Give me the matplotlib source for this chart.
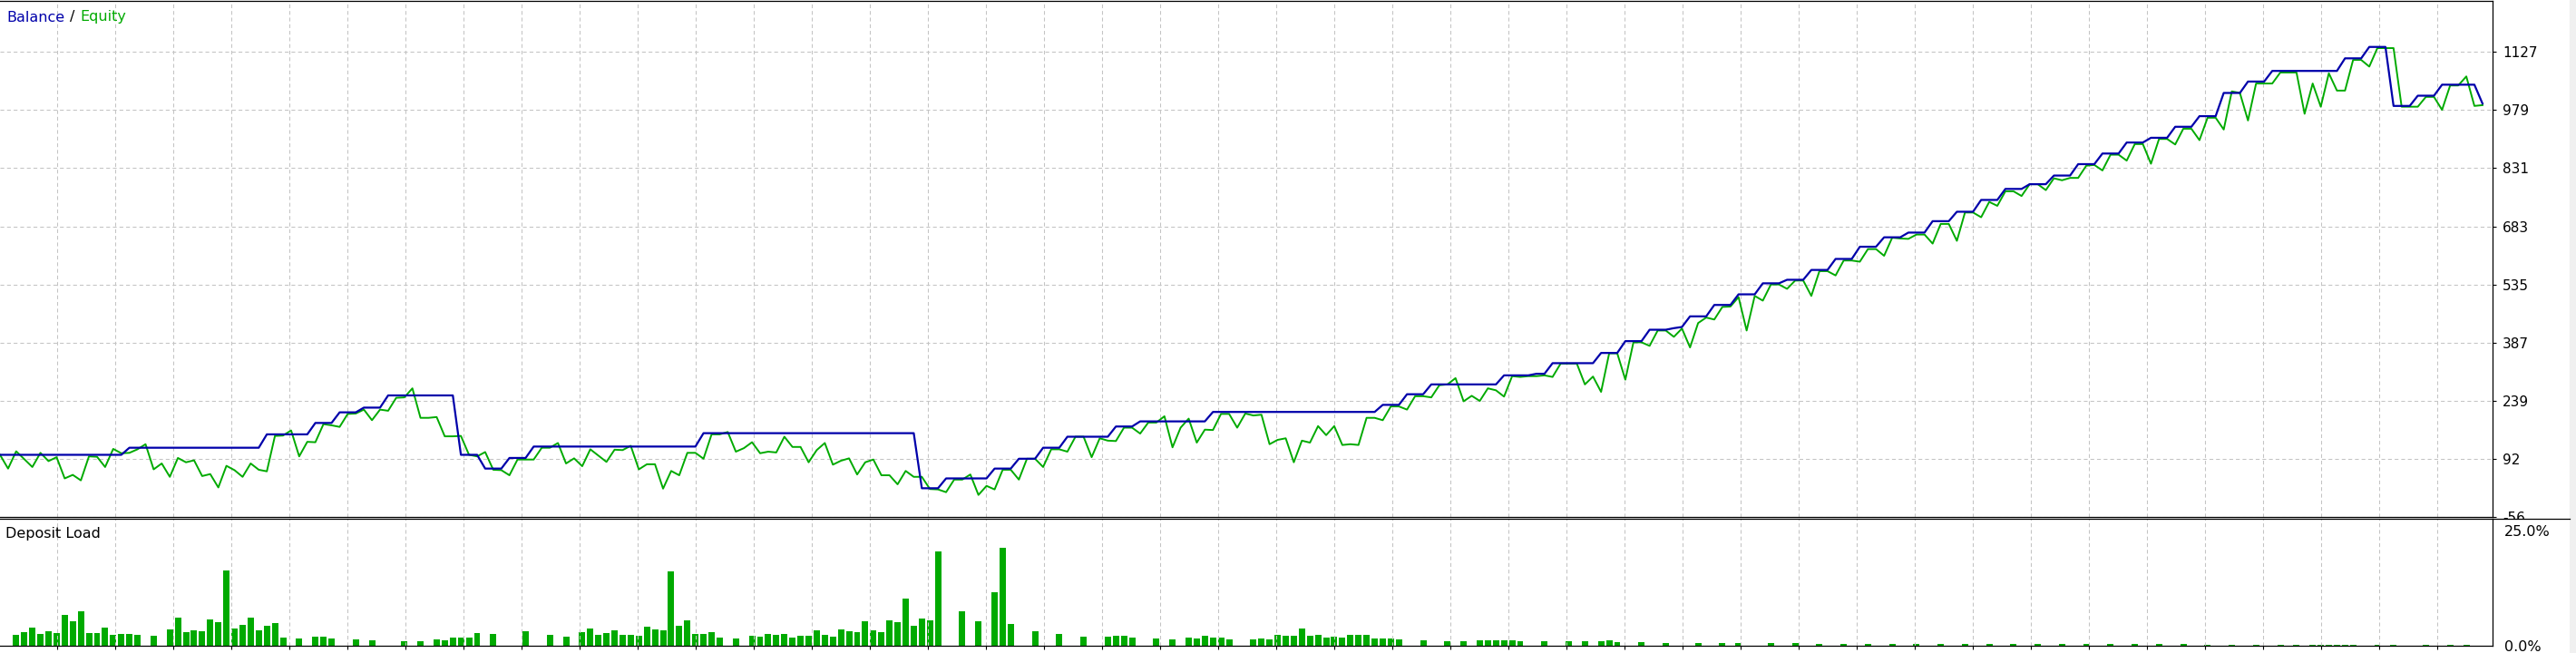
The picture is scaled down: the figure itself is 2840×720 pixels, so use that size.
import numpy as np
import matplotlib.pyplot as plt
from matplotlib.patches import Rectangle

# balance / equity after each deal
balance = [
    102, 102, 102, 102, 102, 102, 102, 102, 102, 102,
    102, 102, 102, 102, 102, 102, 120, 120, 120, 120,
    120, 120, 120, 120, 120, 120, 120, 120, 120, 120,
    120, 120, 120, 154, 154, 154, 154, 154, 154, 183,
    183, 183, 210, 210, 210, 222, 222, 222, 253, 253,
    253, 253, 253, 253, 253, 253, 253, 102, 102, 102,
    67, 67, 67, 94, 94, 94, 123, 123, 123, 123,
    123, 123, 123, 123, 123, 123, 123, 123, 123, 123,
    123, 123, 123, 123, 123, 123, 123, 157, 157, 157,
    157, 157, 157, 157, 157, 157, 157, 157, 157, 157,
    157, 157, 157, 157, 157, 157, 157, 157, 157, 157,
    157, 157, 157, 157, 17, 17, 17, 42, 42, 42,
    42, 42, 42, 67, 67, 67, 92, 92, 92, 120,
    120, 120, 148, 148, 148, 148, 148, 148, 174, 174,
    174, 187, 187, 187, 187, 187, 187, 187, 187, 187,
    211, 211, 211, 211, 211, 211, 211, 211, 211, 211,
    211, 211, 211, 211, 211, 211, 211, 211, 211, 211,
    211, 229, 229, 229, 256, 256, 256, 281, 281, 281,
    281, 281, 281, 281, 281, 281, 304, 304, 304, 304,
    308, 308, 335, 335, 335, 335, 335, 335, 361, 361,
    361, 391, 391, 391, 420, 420, 420, 424, 427, 454,
    454, 454, 483, 483, 483, 510, 510, 510, 538, 538,
    538, 547, 547, 547, 572, 572, 572, 600, 600, 600,
    631, 631, 631, 655, 655, 655, 667, 667, 667, 696,
    696, 696, 720, 720, 720, 750, 750, 750, 778, 778,
    778, 790, 790, 790, 812, 812, 812, 841, 841, 841,
    868, 868, 868, 896, 896, 896, 908, 908, 908, 936,
    936, 936, 963, 963, 963, 1022, 1022, 1022, 1051, 1051,
    1051, 1078, 1078, 1078, 1078, 1078, 1078, 1078, 1078, 1078,
    1110, 1110, 1110, 1139, 1139, 1139, 989, 989, 989, 1015,
    1015, 1015, 1043, 1043, 1043, 1043, 1043, 995,
]
equity = [
    102, 67, 111, 91, 71, 107, 86, 96, 42, 51,
    37, 98, 97, 71, 117, 106, 107, 116, 129, 65,
    80, 46, 94, 83, 88, 48, 53, 19, 74, 63,
    46, 80, 64, 60, 150, 151, 164, 98, 135, 134,
    180, 177, 173, 206, 207, 217, 190, 217, 214, 247,
    248, 271, 196, 196, 198, 149, 149, 150, 102, 98,
    109, 64, 63, 50, 90, 90, 90, 120, 120, 132,
    80, 93, 73, 116, 100, 84, 115, 114, 125, 65,
    78, 78, 16, 61, 50, 107, 107, 92, 154, 154,
    160, 110, 119, 134, 106, 110, 108, 148, 122, 122,
    83, 114, 132, 77, 87, 93, 52, 83, 90, 50,
    50, 27, 61, 46, 46, 15, 14, 7, 39, 39,
    52, 0, 23, 14, 64, 64, 39, 92, 92, 71,
    116, 116, 110, 148, 148, 96, 144, 138, 137, 171,
    171, 156, 184, 184, 200, 121, 171, 194, 133, 166,
    165, 206, 206, 171, 207, 202, 204, 129, 140, 144,
    83, 138, 133, 175, 152, 175, 127, 129, 127, 196,
    196, 190, 225, 225, 217, 251, 251, 248, 279, 281,
    297, 238, 252, 239, 271, 266, 250, 302, 300, 302,
    302, 304, 300, 334, 334, 334, 281, 301, 262, 360,
    360, 293, 388, 388, 379, 418, 418, 402, 423, 375,
    437, 451, 446, 478, 479, 503, 418, 506, 494, 535,
    535, 524, 545, 545, 506, 569, 569, 558, 596, 596,
    593, 625, 625, 608, 654, 652, 651, 662, 662, 639,
    689, 689, 646, 718, 718, 706, 745, 735, 772, 772,
    760, 790, 790, 775, 805, 800, 806, 806, 837, 839,
    825, 865, 865, 850, 892, 892, 842, 905, 905, 891,
    931, 931, 902, 959, 959, 929, 1026, 1022, 952, 1046,
    1046, 1046, 1074, 1074, 1074, 969, 1046, 987, 1072, 1028,
    1028, 1106, 1106, 1089, 1136, 1136, 1136, 987, 987, 987,
    1012, 1012, 979, 1041, 1041, 1064, 989, 991,
]

# deposit load (%) : deal number and value
load_idx = [
    2, 3, 4, 5, 6, 7, 8, 9, 10, 11, 12, 13, 14, 15, 16, 17, 19, 21, 22, 23,
    24, 25, 26, 27, 28, 29, 30, 31, 32, 33, 34, 35, 37, 39, 40, 41, 44, 46, 50, 52,
    54, 55, 56, 57, 58, 59, 61, 65,
    68, 70, 72, 73, 74, 75, 76, 77, 78, 79, 80, 81, 82, 83, 84, 85, 86, 87, 88, 89,
    91, 93, 94, 95, 96, 97, 98, 99, 100, 101, 102, 103, 104, 105, 106, 107, 108, 109, 110, 111,
    112, 113, 114, 115, 116, 119, 121, 123, 124, 125, 128, 131, 134,
    137, 138, 139, 140, 143, 145, 147, 148, 149, 150, 151, 152, 155, 156, 157, 158, 159, 160, 161, 162,
    163, 164, 165, 166, 167, 168, 169, 170, 171, 172, 173, 176, 179, 181, 183, 184, 185, 186, 187, 188,
    191, 194, 196, 198, 199, 200, 203, 206, 210, 213, 215, 219, 222,
    225, 228, 231, 234, 237, 240, 243, 246, 249, 252, 255, 258, 261, 264, 267, 270,
    273, 276, 279, 282, 284, 286, 287, 288, 289, 290, 291, 294, 296, 300, 303, 305,
]
load_pct = [
    2.4, 3.0, 3.9, 2.6, 3.1, 2.8, 6.7, 5.3, 7.5, 2.8, 2.8, 3.9, 2.4, 2.6, 2.6, 2.4, 2.2, 3.5, 6.1, 3.0,
    3.3, 3.1, 5.7, 5.1, 16.3, 3.7, 4.5, 6.1, 3.3, 4.3, 4.9, 1.8, 1.6, 2.0, 2.0, 1.6, 1.4, 1.2, 1.0, 1.0,
    1.4, 1.2, 1.8, 1.8, 1.8, 2.8, 2.6, 3.1,
    2.4, 2.0, 3.0, 3.7, 2.4, 2.8, 3.3, 2.4, 2.4, 2.2, 4.1, 3.5, 3.3, 16.1, 4.3, 5.5, 2.6, 2.6, 3.0, 1.8,
    1.6, 2.2, 2.0, 2.6, 2.4, 2.6, 1.8, 2.2, 2.2, 3.3, 2.4, 2.0, 3.5, 3.1, 3.0, 5.3, 3.3, 3.0, 5.5, 5.1,
    10.2, 4.3, 5.9, 5.5, 20.5, 7.5, 5.3, 11.6, 21.3, 4.7, 3.1, 2.6, 2.0,
    2.0, 2.2, 2.2, 1.8, 1.6, 1.4, 1.8, 1.6, 2.2, 1.8, 1.8, 1.4, 1.4, 1.6, 1.4, 2.4, 2.2, 2.2, 3.7, 2.2,
    2.4, 1.8, 2.0, 1.8, 2.4, 2.4, 2.4, 1.6, 1.6, 1.6, 1.4, 1.2, 1.0, 1.0, 1.2, 1.2, 1.2, 1.2, 1.2, 1.0,
    1.0, 1.0, 1.0, 1.0, 1.2, 0.8, 0.8, 0.6, 0.6, 0.6, 0.6, 0.6, 0.6,
    0.4, 0.4, 0.4, 0.4, 0.4, 0.4, 0.4, 0.4, 0.4, 0.4, 0.4, 0.4, 0.4, 0.4, 0.4, 0.4,
    0.15, 0.15, 0.15, 0.15, 0.15, 0.15, 0.15, 0.15, 0.15, 0.15, 0.15, 0.15, 0.15, 0.15, 0.15, 0.15,
]

y_ticks = [-56, 92, 239, 387, 535, 683, 831, 979, 1127]
load_ticks = [0, 25]
load_labels = ['0.0%', '25.0%']

BLUE = '#0000AA'
GREEN = '#00AA00'
GRID = '#C4C4C4'
W, H = 2840, 720
pitch = 8.915            # pixels per deal in the original picture
plot_w = 2748            # right border of the chart area

plt.rcParams['font.family'] = ['DejaVu Sans']
fig = plt.figure(figsize=(W / 100, H / 100), dpi=100)
fig.patches.append(Rectangle((2833 / W, 0), 7 / W, 1, transform=fig.transFigure,
                             color='#F0F0F0', zorder=0))


def box(x0, y0, x1, y1):
    # pixel box, origin top-left -> figure fraction
    return [x0 / W, 1 - y1 / H, (x1 - x0) / W, (y1 - y0) / H]


ax = fig.add_axes(box(0, 1, plot_w, 570))
cover = fig.add_axes(box(plot_w + 1, 572, 2833, 720))
ax2 = fig.add_axes(box(0, 572, plot_w, 712))
ax.set_zorder(1)
cover.set_zorder(2)
ax2.set_zorder(3)

grid_x = np.arange(63, plot_w, 64) / pitch
dash = (0, (4, 3))

# top panel: balance / equity
x = np.arange(len(equity))
ax.plot(x, equity, color=GREEN, lw=1.4, zorder=3)
ax.plot(x, balance, color=BLUE, lw=1.6, zorder=4)
ax.set_xlim(0, plot_w / pitch)
ax.set_ylim(-56, 1256)
ax.set_xticks(grid_x)
ax.tick_params(axis='x', length=0, labelbottom=False)
ax.yaxis.tick_right()
ax.set_yticks(y_ticks)
ax.set_yticklabels([str(v) for v in y_ticks])
ax.tick_params(axis='y', direction='out', length=3, width=0.8, pad=5, labelsize=11)
ax.grid(True, color=GRID, ls=dash, lw=0.75)
ax.spines['left'].set_visible(False)
for s in ['top', 'right', 'bottom']:
    ax.spines[s].set_linewidth(0.9)

# white strip hiding the lower half of the last axis label
cover.set_xticks([])
cover.set_yticks([])
for s in ['left', 'right', 'bottom']:
    cover.spines[s].set_visible(False)
cover.spines['top'].set_linewidth(0.9)

# bottom panel: deposit load
ax2.bar(load_idx, load_pct, width=0.78, color=GREEN, linewidth=0)
ax2.set_xlim(0, plot_w / pitch)
ax2.set_ylim(0, 25 * 140 / 127)
ax2.set_xticks(grid_x)
ax2.tick_params(axis='x', direction='out', length=3, width=0.8, labelbottom=False)
ax2.yaxis.tick_right()
ax2.set_yticks(load_ticks)
ax2.set_yticklabels(load_labels)
ax2.tick_params(axis='y', length=0, pad=9, labelsize=11.5)
ax2.grid(True, axis='x', color=GRID, ls=dash, lw=0.75)
ax2.spines['left'].set_visible(False)
for s in ['top', 'right', 'bottom']:
    ax2.spines[s].set_linewidth(0.9)

# titles
r = fig.canvas.get_renderer()
xpos = 7
for txt, col in [('Balance', BLUE), ('/', 'black'), ('Equity', GREEN)]:
    t = fig.text(xpos / W, 1 - 19 / H, txt, color=col, fontsize=11.5, va='center', zorder=10)
    xpos += t.get_window_extent(r).width + 6
fig.text(6 / W, 1 - 589 / H, 'Deposit Load', color='black', fontsize=11.5, va='center', zorder=10)

fig.savefig('out.png', dpi=100)
